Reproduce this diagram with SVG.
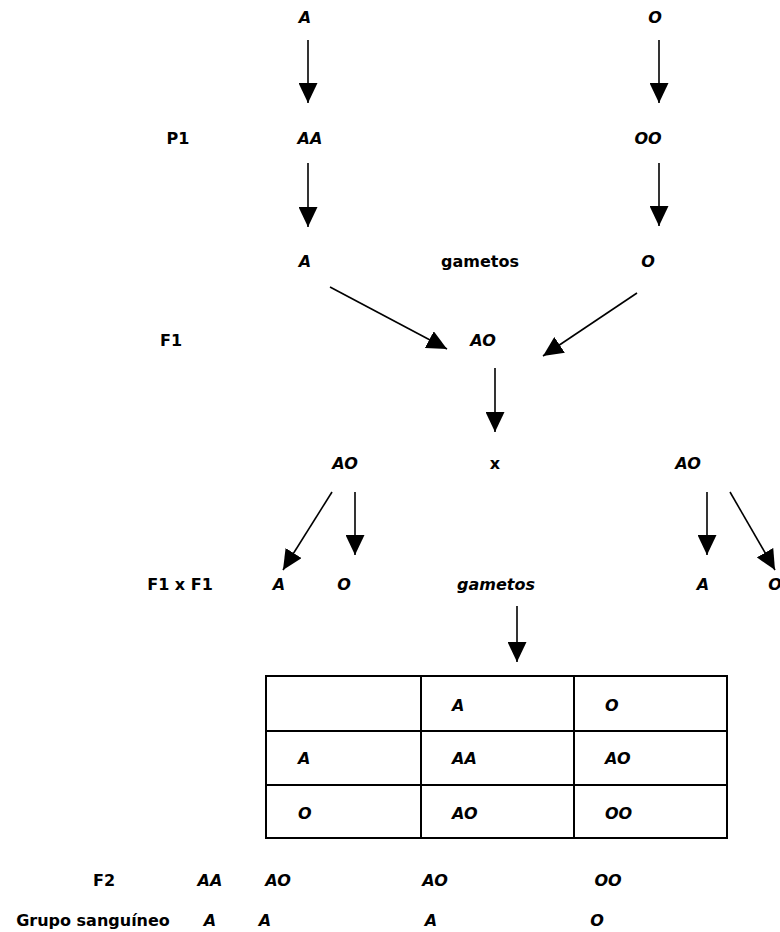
<svg xmlns="http://www.w3.org/2000/svg" width="780" height="932" viewBox="0 0 780 932">
<style>
text{font-family:"Comic Sans MS","DejaVu Sans",sans-serif;font-size:16px;font-weight:bold;fill:#000;text-anchor:middle}
.i{font-style:italic}
.s{text-anchor:start}
.c line{stroke:#000;stroke-width:1.6;marker-end:url(#ah)}
.t{fill:#fff;stroke:#000;stroke-width:2}
.g{stroke:#000;stroke-width:2}
</style>
<defs>
<marker id="ah" markerUnits="userSpaceOnUse" markerWidth="20" markerHeight="19" refX="20" refY="9.5" orient="auto" viewBox="0 0 20 19">
<path d="M0,0 L20,9.5 L0,19 z" fill="#000"/>
</marker>
</defs>
<rect width="780" height="932" fill="#fff"/>
<g id="connectors" class="c">
<line x1="308" y1="40" x2="308" y2="103"/>
<line x1="659" y1="40" x2="659" y2="103"/>
<line x1="308" y1="163" x2="308" y2="227"/>
<line x1="659" y1="163" x2="659" y2="226"/>
<line x1="330" y1="287" x2="447" y2="349"/>
<line x1="637" y1="293" x2="543" y2="356"/>
<line x1="495" y1="368" x2="495" y2="432"/>
<line x1="332" y1="492" x2="283" y2="570"/>
<line x1="355" y1="492" x2="355" y2="555"/>
<line x1="707" y1="492" x2="707" y2="555"/>
<line x1="730" y1="492" x2="775" y2="570"/>
<line x1="517" y1="606" x2="517" y2="662"/>
</g>
<g id="row-parents">
<text class="i" x="305" y="23">A</text>
<text class="i" x="655" y="23">O</text>
</g>
<g id="row-P1">
<text x="178" y="144">P1</text>
<text class="i" x="310" y="144">AA</text>
<text class="i" x="648" y="144">OO</text>
</g>
<g id="row-gametes1">
<text class="i" x="305" y="267">A</text>
<text x="480" y="267">gametos</text>
<text class="i" x="648" y="267">O</text>
</g>
<g id="row-F1">
<text x="171" y="346">F1</text>
<text class="i" x="483" y="346">AO</text>
</g>
<g id="row-cross">
<text class="i" x="345" y="469">AO</text>
<text x="495" y="469">x</text>
<text class="i" x="688" y="469">AO</text>
</g>
<g id="row-gametes2">
<text x="180" y="590">F1 x F1</text>
<text class="i" x="279" y="590">A</text>
<text class="i" x="344" y="590">O</text>
<text class="i" x="496" y="590">gametos</text>
<text class="i" x="703" y="590">A</text>
<text class="i" x="775" y="590">O</text>
</g>
<g id="punnett">
<rect class="t" x="266" y="676" width="461" height="162"/>
<line class="g" x1="266" y1="731" x2="727" y2="731"/>
<line class="g" x1="266" y1="785" x2="727" y2="785"/>
<line class="g" x1="421" y1="676" x2="421" y2="838"/>
<line class="g" x1="574" y1="676" x2="574" y2="838"/>
<text class="i s" x="452" y="711">A</text>
<text class="i s" x="605" y="711">O</text>
<text class="i s" x="298" y="764">A</text>
<text class="i s" x="452" y="764">AA</text>
<text class="i s" x="605" y="764">AO</text>
<text class="i s" x="298" y="819">O</text>
<text class="i s" x="452" y="819">AO</text>
<text class="i s" x="605" y="819">OO</text>
</g>
<g id="row-F2">
<text x="104" y="886">F2</text>
<text class="i" x="210" y="886">AA</text>
<text class="i" x="278" y="886">AO</text>
<text class="i" x="435" y="886">AO</text>
<text class="i" x="608" y="886">OO</text>
</g>
<g id="row-grupo">
<text x="93" y="926">Grupo sanguíneo</text>
<text class="i" x="210" y="926">A</text>
<text class="i" x="265" y="926">A</text>
<text class="i" x="431" y="926">A</text>
<text class="i" x="597" y="926">O</text>
</g>
</svg>
